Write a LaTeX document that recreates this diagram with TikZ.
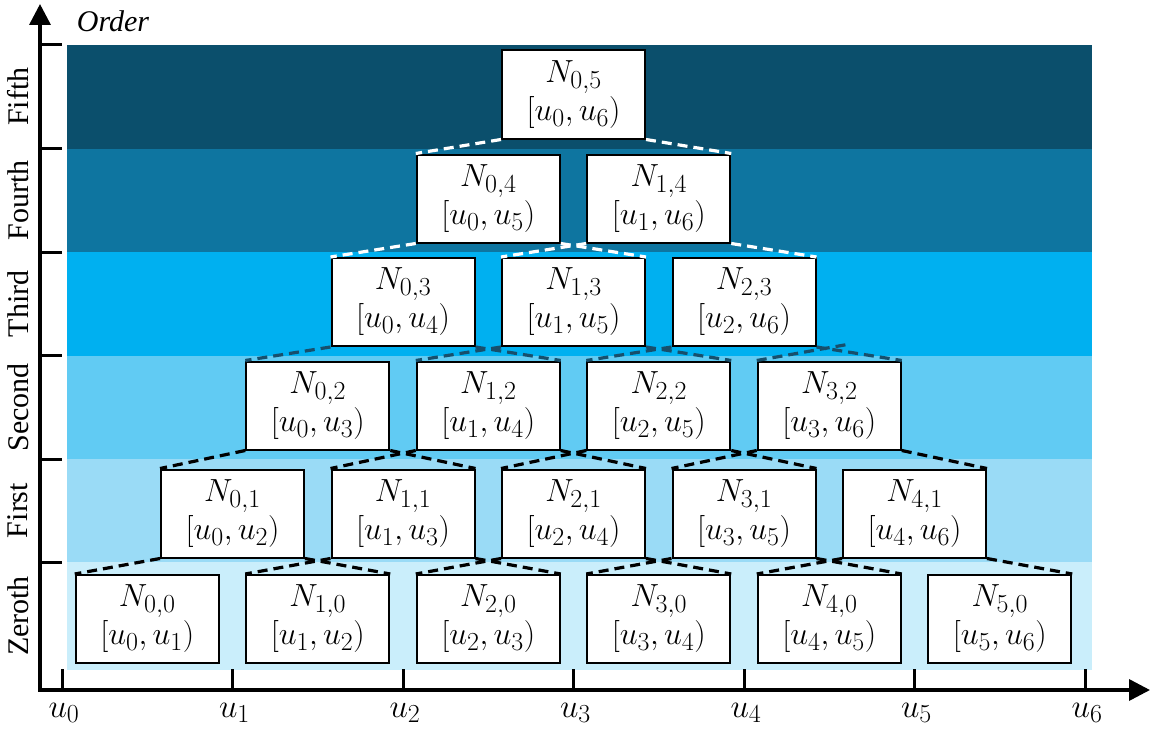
\RequirePackage{fix-cm}
\documentclass[tikz,border=0pt]{standalone}
\usepackage{fontspec}
\setmainfont{Liberation Serif}
\usetikzlibrary{arrows.meta}
\DeclareMathSizes{32}{32}{26}{20}
\DeclareMathSizes{33}{33}{26}{20}
\definecolor{bandV}{HTML}{0B4F6C}
\definecolor{bandIV}{HTML}{0E75A0}
\definecolor{bandIII}{HTML}{00B0F0}
\definecolor{bandII}{HTML}{61CBF3}
\definecolor{bandI}{HTML}{9ADBF6}
\definecolor{bandO}{HTML}{CAEEFB}
\definecolor{lineblue}{HTML}{174F6C}
\begin{document}
\begin{tikzpicture}[x=1pt,y=-1pt,
  nbox/.style={draw=black, line width=2pt, fill=white, minimum width=143pt, minimum height=88pt, inner sep=0pt, align=center, font=\fontsize{32}{38}\selectfont},
  dl/.style={line width=3.2pt, dash pattern=on 10pt off 6pt},
  axisline/.style={line width=3.5pt},
  tickline/.style={line width=3pt},
  lvl/.style={rotate=90, font=\fontsize{30}{36}\selectfont},
  ulab/.style={font=\fontsize{33}{36}\selectfont}]
\useasboundingbox (0,0) rectangle (1155,733);
% bands
\fill[bandV]   (67,45)    rectangle (1092,148.5);
\fill[bandIV]  (67,148.5) rectangle (1092,252);
\fill[bandIII] (67,252)   rectangle (1092,355.5);
\fill[bandII]  (67,355.5) rectangle (1092,459);
\fill[bandI]   (67,459)   rectangle (1092,562);
\fill[bandO]   (67,562)   rectangle (1092,670);
% axes
\coordinate (ytop) at (40,4);
\coordinate (xend) at (1150,690);
\draw[axisline, -{Triangle[width=21pt,length=21pt]}] (40,691.75) -- (ytop);
\draw[axisline, -{Triangle[width=21pt,length=21pt]}] (38.25,690) -- (xend);
% y ticks
\foreach \yy in {45,148.5,252,355.5,459,562} {
  \draw[tickline] (40,\yy) -- (62,\yy);
}
% x ticks and labels
\foreach \i in {0,...,6} {
  \pgfmathsetmacro\ux{62+170.5*\i}
  \draw[tickline] (\ux,690) -- (\ux,669);
  \node[ulab] (u\i) at (\ux+2,713) {$u_{\i}$};
}
\node[font=\fontsize{30}{36}\selectfont\itshape] (order) at (113,21) {Order};
% level labels
\node[lvl] (l5) at (18,96.75) {Fifth};
\node[lvl] (l4) at (18,200.25) {Fourth};
\node[lvl] (l3) at (18,303.75) {Third};
\node[lvl] (l2) at (18,407.25) {Second};
\node[lvl] (l1) at (18,510.5) {First};
\node[lvl] (l0) at (18,616) {Zeroth};
% nodes
\foreach \k/\yc in {0/619,1/513.5,2/405.5,3/302,4/198.5,5/94.5} {
  \pgfmathtruncatemacro\imax{5-\k}
  \foreach \i in {0,...,\imax} {
    \pgfmathtruncatemacro\j{\i+\k+1}
    \node[nbox] (N\i-\k) at ({62+85.25*(2*\i+\k+1)},\yc) {$N_{\i,\k}$\\$[u_{\i},u_{\j})$};
  }
}
% connectors
\foreach \k/\c in {1/black,2/black,3/lineblue,4/white,5/white} {
  \pgfmathtruncatemacro\kk{\k-1}
  \pgfmathtruncatemacro\imax{5-\k}
  \foreach \i in {0,...,\imax} {
    \pgfmathtruncatemacro\ii{\i+1}
    \draw[dl, draw=\c] (N\i-\k.south west) -- (N\i-\kk.north west);
    \draw[dl, draw=\c] (N\i-\k.south east) -- (N\ii-\kk.north east);
  }
}
\coordinate (stray) at (850,344);
\draw[dl, draw=lineblue] (N3-2.north west) -- (stray);
\end{tikzpicture}
\end{document}
